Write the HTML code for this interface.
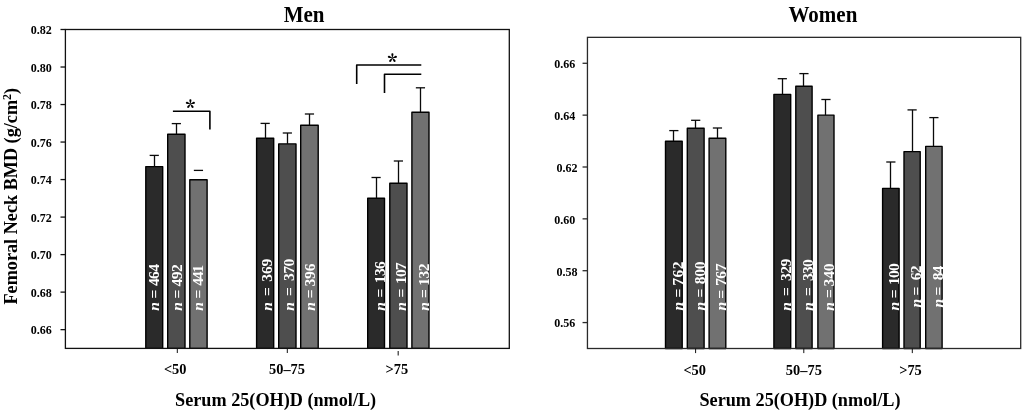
<!DOCTYPE html>
<html><head><meta charset="utf-8"><title>Femoral Neck BMD</title>
<style>html,body{margin:0;padding:0;background:#fff;}svg{display:block;}</style></head>
<body><svg width="1024" height="410" viewBox="0 0 1024 410" font-family="'Liberation Serif', 'Times New Roman', serif" fill="#000">
<rect width="1024" height="410" fill="#fff"/>
<rect x="145.80" y="166.60" width="16.90" height="181.80" fill="#2a2a2a" stroke="#000" stroke-width="1.4" stroke-linejoin="round"/>
<line x1="154.50" y1="166.60" x2="154.50" y2="155.40" stroke="#0a0a0a" stroke-width="1.3"/>
<line x1="149.65" y1="155.40" x2="158.85" y2="155.40" stroke="#0a0a0a" stroke-width="1.3"/>
<rect x="167.70" y="134.20" width="17.30" height="214.20" fill="#4e4e4e" stroke="#000" stroke-width="1.4" stroke-linejoin="round"/>
<line x1="176.50" y1="134.20" x2="176.50" y2="123.60" stroke="#0a0a0a" stroke-width="1.3"/>
<line x1="171.75" y1="123.60" x2="180.95" y2="123.60" stroke="#0a0a0a" stroke-width="1.3"/>
<rect x="189.80" y="179.80" width="17.30" height="168.60" fill="#717171" stroke="#000" stroke-width="1.4" stroke-linejoin="round"/>
<line x1="193.85" y1="170.40" x2="203.05" y2="170.40" stroke="#0a0a0a" stroke-width="1.3"/>
<rect x="256.60" y="138.30" width="17.10" height="210.10" fill="#2a2a2a" stroke="#000" stroke-width="1.4" stroke-linejoin="round"/>
<line x1="265.50" y1="138.30" x2="265.50" y2="123.40" stroke="#0a0a0a" stroke-width="1.3"/>
<line x1="260.55" y1="123.40" x2="269.75" y2="123.40" stroke="#0a0a0a" stroke-width="1.3"/>
<rect x="278.70" y="143.90" width="17.30" height="204.50" fill="#4e4e4e" stroke="#000" stroke-width="1.4" stroke-linejoin="round"/>
<line x1="287.50" y1="143.90" x2="287.50" y2="133.00" stroke="#0a0a0a" stroke-width="1.3"/>
<line x1="282.75" y1="133.00" x2="291.95" y2="133.00" stroke="#0a0a0a" stroke-width="1.3"/>
<rect x="300.70" y="125.30" width="17.50" height="223.10" fill="#717171" stroke="#000" stroke-width="1.4" stroke-linejoin="round"/>
<line x1="309.50" y1="125.30" x2="309.50" y2="114.00" stroke="#0a0a0a" stroke-width="1.3"/>
<line x1="304.85" y1="114.00" x2="314.05" y2="114.00" stroke="#0a0a0a" stroke-width="1.3"/>
<rect x="367.70" y="198.20" width="16.80" height="150.20" fill="#2a2a2a" stroke="#000" stroke-width="1.4" stroke-linejoin="round"/>
<line x1="376.50" y1="198.20" x2="376.50" y2="177.50" stroke="#0a0a0a" stroke-width="1.3"/>
<line x1="371.50" y1="177.50" x2="380.70" y2="177.50" stroke="#0a0a0a" stroke-width="1.3"/>
<rect x="389.80" y="183.30" width="17.20" height="165.10" fill="#4e4e4e" stroke="#000" stroke-width="1.4" stroke-linejoin="round"/>
<line x1="398.50" y1="183.30" x2="398.50" y2="161.00" stroke="#0a0a0a" stroke-width="1.3"/>
<line x1="393.80" y1="161.00" x2="403.00" y2="161.00" stroke="#0a0a0a" stroke-width="1.3"/>
<rect x="411.90" y="112.20" width="17.10" height="236.20" fill="#717171" stroke="#000" stroke-width="1.4" stroke-linejoin="round"/>
<line x1="420.50" y1="112.20" x2="420.50" y2="87.80" stroke="#0a0a0a" stroke-width="1.3"/>
<line x1="415.85" y1="87.80" x2="425.05" y2="87.80" stroke="#0a0a0a" stroke-width="1.3"/>
<text transform="translate(158.88,311.00) rotate(-90)" font-size="15.6" font-weight="bold" fill="#fff"><tspan x="0.30" font-style="italic">n</tspan><tspan x="12.60">=</tspan><tspan x="24.90" textLength="22.10" lengthAdjust="spacing">464</tspan></text>
<text transform="translate(181.88,311.00) rotate(-90)" font-size="15.6" font-weight="bold" fill="#fff"><tspan x="0.30" font-style="italic">n</tspan><tspan x="12.60">=</tspan><tspan x="24.50" textLength="22.20" lengthAdjust="spacing">492</tspan></text>
<text transform="translate(203.28,311.00) rotate(-90)" font-size="15.6" font-weight="bold" fill="#fff"><tspan x="0.30" font-style="italic">n</tspan><tspan x="12.60">=</tspan><tspan x="25.30" textLength="20.70" lengthAdjust="spacing">441</tspan></text>
<text transform="translate(272.48,311.00) rotate(-90)" font-size="15.6" font-weight="bold" fill="#fff"><tspan x="0.30" font-style="italic">n</tspan><tspan x="15.00">=</tspan><tspan x="29.30" textLength="23.00" lengthAdjust="spacing">369</tspan></text>
<text transform="translate(293.73,311.00) rotate(-90)" font-size="15.6" font-weight="bold" fill="#fff"><tspan x="0.30" font-style="italic">n</tspan><tspan x="15.00">=</tspan><tspan x="30.00" textLength="22.30" lengthAdjust="spacing">370</tspan></text>
<text transform="translate(314.88,311.00) rotate(-90)" font-size="15.6" font-weight="bold" fill="#fff"><tspan x="0.30" font-style="italic">n</tspan><tspan x="12.70">=</tspan><tspan x="24.50" textLength="23.00" lengthAdjust="spacing">396</tspan></text>
<text transform="translate(384.68,311.00) rotate(-90)" font-size="15.6" font-weight="bold" fill="#fff"><tspan x="0.30" font-style="italic">n</tspan><tspan x="13.50">=</tspan><tspan x="27.70" textLength="22.20" lengthAdjust="spacing">136</tspan></text>
<text transform="translate(406.33,311.00) rotate(-90)" font-size="15.6" font-weight="bold" fill="#fff"><tspan x="0.30" font-style="italic">n</tspan><tspan x="13.50">=</tspan><tspan x="27.00" textLength="21.60" lengthAdjust="spacing">107</tspan></text>
<text transform="translate(428.53,311.00) rotate(-90)" font-size="15.6" font-weight="bold" fill="#fff"><tspan x="0.30" font-style="italic">n</tspan><tspan x="13.00">=</tspan><tspan x="25.30" textLength="22.20" lengthAdjust="spacing">132</tspan></text>
<rect x="65.4" y="29.5" width="443.90" height="318.90" fill="none" stroke="#111" stroke-width="1.3"/>
<line x1="60.50" y1="329.64" x2="65.40" y2="329.64" stroke="#111" stroke-width="1.3"/>
<text transform="translate(51.80,334.44) scale(0.965,1)" font-size="12.5" font-weight="bold" text-anchor="end">0.66</text>
<line x1="60.50" y1="292.12" x2="65.40" y2="292.12" stroke="#111" stroke-width="1.3"/>
<text transform="translate(51.80,296.92) scale(0.965,1)" font-size="12.5" font-weight="bold" text-anchor="end">0.68</text>
<line x1="60.50" y1="254.61" x2="65.40" y2="254.61" stroke="#111" stroke-width="1.3"/>
<text transform="translate(51.80,259.41) scale(0.965,1)" font-size="12.5" font-weight="bold" text-anchor="end">0.70</text>
<line x1="60.50" y1="217.09" x2="65.40" y2="217.09" stroke="#111" stroke-width="1.3"/>
<text transform="translate(51.80,221.89) scale(0.965,1)" font-size="12.5" font-weight="bold" text-anchor="end">0.72</text>
<line x1="60.50" y1="179.57" x2="65.40" y2="179.57" stroke="#111" stroke-width="1.3"/>
<text transform="translate(51.80,184.37) scale(0.965,1)" font-size="12.5" font-weight="bold" text-anchor="end">0.74</text>
<line x1="60.50" y1="142.05" x2="65.40" y2="142.05" stroke="#111" stroke-width="1.3"/>
<text transform="translate(51.80,146.85) scale(0.965,1)" font-size="12.5" font-weight="bold" text-anchor="end">0.76</text>
<line x1="60.50" y1="104.54" x2="65.40" y2="104.54" stroke="#111" stroke-width="1.3"/>
<text transform="translate(51.80,109.34) scale(0.965,1)" font-size="12.5" font-weight="bold" text-anchor="end">0.78</text>
<line x1="60.50" y1="67.02" x2="65.40" y2="67.02" stroke="#111" stroke-width="1.3"/>
<text transform="translate(51.80,71.82) scale(0.965,1)" font-size="12.5" font-weight="bold" text-anchor="end">0.80</text>
<line x1="60.50" y1="29.50" x2="65.40" y2="29.50" stroke="#111" stroke-width="1.3"/>
<text transform="translate(51.80,34.30) scale(0.965,1)" font-size="12.5" font-weight="bold" text-anchor="end">0.82</text>
<line x1="177.30" y1="348.40" x2="177.30" y2="353.00" stroke="#111" stroke-width="1"/>
<line x1="287.30" y1="348.40" x2="287.30" y2="353.00" stroke="#111" stroke-width="1"/>
<line x1="398.20" y1="351.00" x2="398.20" y2="355.60" stroke="#333" stroke-width="1.2"/>
<rect x="665.50" y="141.20" width="16.70" height="207.30" fill="#2a2a2a" stroke="#000" stroke-width="1.4" stroke-linejoin="round"/>
<line x1="673.50" y1="141.20" x2="673.50" y2="130.60" stroke="#0a0a0a" stroke-width="1.3"/>
<line x1="669.25" y1="130.60" x2="678.45" y2="130.60" stroke="#0a0a0a" stroke-width="1.3"/>
<rect x="687.30" y="128.30" width="16.80" height="220.20" fill="#4e4e4e" stroke="#000" stroke-width="1.4" stroke-linejoin="round"/>
<line x1="695.50" y1="128.30" x2="695.50" y2="120.30" stroke="#0a0a0a" stroke-width="1.3"/>
<line x1="691.10" y1="120.30" x2="700.30" y2="120.30" stroke="#0a0a0a" stroke-width="1.3"/>
<rect x="709.10" y="138.20" width="16.70" height="210.30" fill="#717171" stroke="#000" stroke-width="1.4" stroke-linejoin="round"/>
<line x1="717.50" y1="138.20" x2="717.50" y2="128.00" stroke="#0a0a0a" stroke-width="1.3"/>
<line x1="712.85" y1="128.00" x2="722.05" y2="128.00" stroke="#0a0a0a" stroke-width="1.3"/>
<rect x="773.90" y="94.40" width="16.80" height="254.10" fill="#2a2a2a" stroke="#000" stroke-width="1.4" stroke-linejoin="round"/>
<line x1="782.50" y1="94.40" x2="782.50" y2="78.70" stroke="#0a0a0a" stroke-width="1.3"/>
<line x1="777.70" y1="78.70" x2="786.90" y2="78.70" stroke="#0a0a0a" stroke-width="1.3"/>
<rect x="795.80" y="86.30" width="16.30" height="262.20" fill="#4e4e4e" stroke="#000" stroke-width="1.4" stroke-linejoin="round"/>
<line x1="803.50" y1="86.30" x2="803.50" y2="73.60" stroke="#0a0a0a" stroke-width="1.3"/>
<line x1="799.35" y1="73.60" x2="808.55" y2="73.60" stroke="#0a0a0a" stroke-width="1.3"/>
<rect x="817.90" y="115.10" width="16.10" height="233.40" fill="#717171" stroke="#000" stroke-width="1.4" stroke-linejoin="round"/>
<line x1="825.50" y1="115.10" x2="825.50" y2="99.50" stroke="#0a0a0a" stroke-width="1.3"/>
<line x1="821.35" y1="99.50" x2="830.55" y2="99.50" stroke="#0a0a0a" stroke-width="1.3"/>
<rect x="882.60" y="188.40" width="16.50" height="160.10" fill="#2a2a2a" stroke="#000" stroke-width="1.4" stroke-linejoin="round"/>
<line x1="890.50" y1="188.40" x2="890.50" y2="162.00" stroke="#0a0a0a" stroke-width="1.3"/>
<line x1="886.25" y1="162.00" x2="895.45" y2="162.00" stroke="#0a0a0a" stroke-width="1.3"/>
<rect x="904.00" y="151.60" width="16.20" height="196.90" fill="#4e4e4e" stroke="#000" stroke-width="1.4" stroke-linejoin="round"/>
<line x1="912.50" y1="151.60" x2="912.50" y2="109.90" stroke="#0a0a0a" stroke-width="1.3"/>
<line x1="907.50" y1="109.90" x2="916.70" y2="109.90" stroke="#0a0a0a" stroke-width="1.3"/>
<rect x="925.70" y="146.40" width="16.40" height="202.10" fill="#717171" stroke="#000" stroke-width="1.4" stroke-linejoin="round"/>
<line x1="933.50" y1="146.40" x2="933.50" y2="117.60" stroke="#0a0a0a" stroke-width="1.3"/>
<line x1="929.30" y1="117.60" x2="938.50" y2="117.60" stroke="#0a0a0a" stroke-width="1.3"/>
<text transform="translate(682.53,310.90) rotate(-90)" font-size="15.6" font-weight="bold" fill="#fff"><tspan x="0.30" font-style="italic">n</tspan><tspan x="13.30">=</tspan><tspan x="25.20" textLength="24.20" lengthAdjust="spacing">762</tspan></text>
<text transform="translate(704.53,310.90) rotate(-90)" font-size="15.6" font-weight="bold" fill="#fff"><tspan x="0.30" font-style="italic">n</tspan><tspan x="13.30">=</tspan><tspan x="26.70" textLength="22.70" lengthAdjust="spacing">800</tspan></text>
<text transform="translate(726.33,310.90) rotate(-90)" font-size="15.6" font-weight="bold" fill="#fff"><tspan x="0.30" font-style="italic">n</tspan><tspan x="12.10">=</tspan><tspan x="24.80" textLength="22.60" lengthAdjust="spacing">767</tspan></text>
<text transform="translate(790.73,311.00) rotate(-90)" font-size="15.6" font-weight="bold" fill="#fff"><tspan x="0.30" font-style="italic">n</tspan><tspan x="15.00">=</tspan><tspan x="30.00" textLength="22.30" lengthAdjust="spacing">329</tspan></text>
<text transform="translate(812.63,311.00) rotate(-90)" font-size="15.6" font-weight="bold" fill="#fff"><tspan x="0.30" font-style="italic">n</tspan><tspan x="15.00">=</tspan><tspan x="30.00" textLength="21.90" lengthAdjust="spacing">330</tspan></text>
<text transform="translate(834.48,311.00) rotate(-90)" font-size="15.6" font-weight="bold" fill="#fff"><tspan x="0.30" font-style="italic">n</tspan><tspan x="13.00">=</tspan><tspan x="24.50" textLength="23.10" lengthAdjust="spacing">340</tspan></text>
<text transform="translate(899.48,310.80) rotate(-90)" font-size="15.6" font-weight="bold" fill="#fff"><tspan x="0.30" font-style="italic">n</tspan><tspan x="12.50">=</tspan><tspan x="25.80" textLength="21.90" lengthAdjust="spacing">100</tspan></text>
<text transform="translate(921.38,307.80) rotate(-90)" font-size="15.6" font-weight="bold" fill="#fff"><tspan x="0.30" font-style="italic">n</tspan><tspan x="12.30">=</tspan><tspan x="27.50" textLength="14.90" lengthAdjust="spacing">62</tspan></text>
<text transform="translate(942.83,307.80) rotate(-90)" font-size="15.6" font-weight="bold" fill="#fff"><tspan x="0.30" font-style="italic">n</tspan><tspan x="12.30">=</tspan><tspan x="27.50" textLength="14.50" lengthAdjust="spacing">84</tspan></text>
<rect x="587.45" y="37.35" width="433.25" height="311.15" fill="none" stroke="#2a2a2a" stroke-width="1.3"/>
<line x1="582.55" y1="322.57" x2="587.45" y2="322.57" stroke="#2a2a2a" stroke-width="1.3"/>
<text transform="translate(575.30,327.37) scale(0.965,1)" font-size="12.5" font-weight="bold" text-anchor="end">0.56</text>
<line x1="582.55" y1="270.71" x2="587.45" y2="270.71" stroke="#2a2a2a" stroke-width="1.3"/>
<text transform="translate(577.50,275.51) scale(0.965,1)" font-size="12.5" font-weight="bold" text-anchor="end">0.58</text>
<line x1="582.55" y1="218.85" x2="587.45" y2="218.85" stroke="#2a2a2a" stroke-width="1.3"/>
<text transform="translate(575.30,223.65) scale(0.965,1)" font-size="12.5" font-weight="bold" text-anchor="end">0.60</text>
<line x1="582.55" y1="167.00" x2="587.45" y2="167.00" stroke="#2a2a2a" stroke-width="1.3"/>
<text transform="translate(577.50,171.80) scale(0.965,1)" font-size="12.5" font-weight="bold" text-anchor="end">0.62</text>
<line x1="582.55" y1="115.14" x2="587.45" y2="115.14" stroke="#2a2a2a" stroke-width="1.3"/>
<text transform="translate(575.30,119.94) scale(0.965,1)" font-size="12.5" font-weight="bold" text-anchor="end">0.64</text>
<line x1="582.55" y1="63.28" x2="587.45" y2="63.28" stroke="#2a2a2a" stroke-width="1.3"/>
<text transform="translate(575.30,68.08) scale(0.965,1)" font-size="12.5" font-weight="bold" text-anchor="end">0.66</text>
<line x1="695.60" y1="348.50" x2="695.60" y2="353.10" stroke="#111" stroke-width="1"/>
<line x1="803.80" y1="348.50" x2="803.80" y2="353.10" stroke="#111" stroke-width="1"/>
<line x1="912.30" y1="348.50" x2="912.30" y2="353.10" stroke="#111" stroke-width="1"/>
<text x="175.2" y="373.9" font-size="14.4" font-weight="bold" text-anchor="middle">&lt;50</text>
<text x="287.0" y="373.9" font-size="14.4" font-weight="bold" text-anchor="middle">50–75</text>
<text x="396.8" y="373.9" font-size="14.4" font-weight="bold" text-anchor="middle">&gt;75</text>
<text x="694.7" y="374.6" font-size="14.4" font-weight="bold" text-anchor="middle">&lt;50</text>
<text x="803.85" y="374.6" font-size="14.4" font-weight="bold" text-anchor="middle">50–75</text>
<text x="910.5" y="374.6" font-size="14.4" font-weight="bold" text-anchor="middle">&gt;75</text>
<text transform="translate(304.1,21.7) scale(0.93,1)" font-size="22.6" font-weight="bold" text-anchor="middle">Men</text>
<text transform="translate(822.9,21.6) scale(0.93,1)" font-size="22.6" font-weight="bold" text-anchor="middle">Women</text>
<text x="275.6" y="405.6" font-size="18.2" font-weight="bold" text-anchor="middle">Serum 25(OH)D (nmol/L)</text>
<text x="800" y="405.6" font-size="18.2" font-weight="bold" text-anchor="middle">Serum 25(OH)D (nmol/L)</text>
<text transform="translate(17.2,304.5) rotate(-90)" font-size="18.2" font-weight="bold">Femoral Neck BMD (g/cm<tspan font-size="12" dy="-6.3">2</tspan><tspan dy="6.3">)</tspan></text>
<path d="M172.9,111.2 H209.9 V129.6" fill="none" stroke="#000" stroke-width="1.6" stroke-linejoin="round"/>
<text x="190.3" y="115.9" font-size="20" font-family="'Noto Serif CJK SC', 'Liberation Serif', serif" font-weight="900" text-anchor="middle">*</text>
<path d="M356.7,84.0 V65.0 H421.3" fill="none" stroke="#000" stroke-width="1.6" stroke-linejoin="round"/>
<path d="M384.5,93.0 V74.2 H421.3" fill="none" stroke="#000" stroke-width="1.6" stroke-linejoin="round"/>
<text x="392.5" y="70.2" font-size="20" font-family="'Noto Serif CJK SC', 'Liberation Serif', serif" font-weight="900" text-anchor="middle">*</text>
</svg></body></html>
